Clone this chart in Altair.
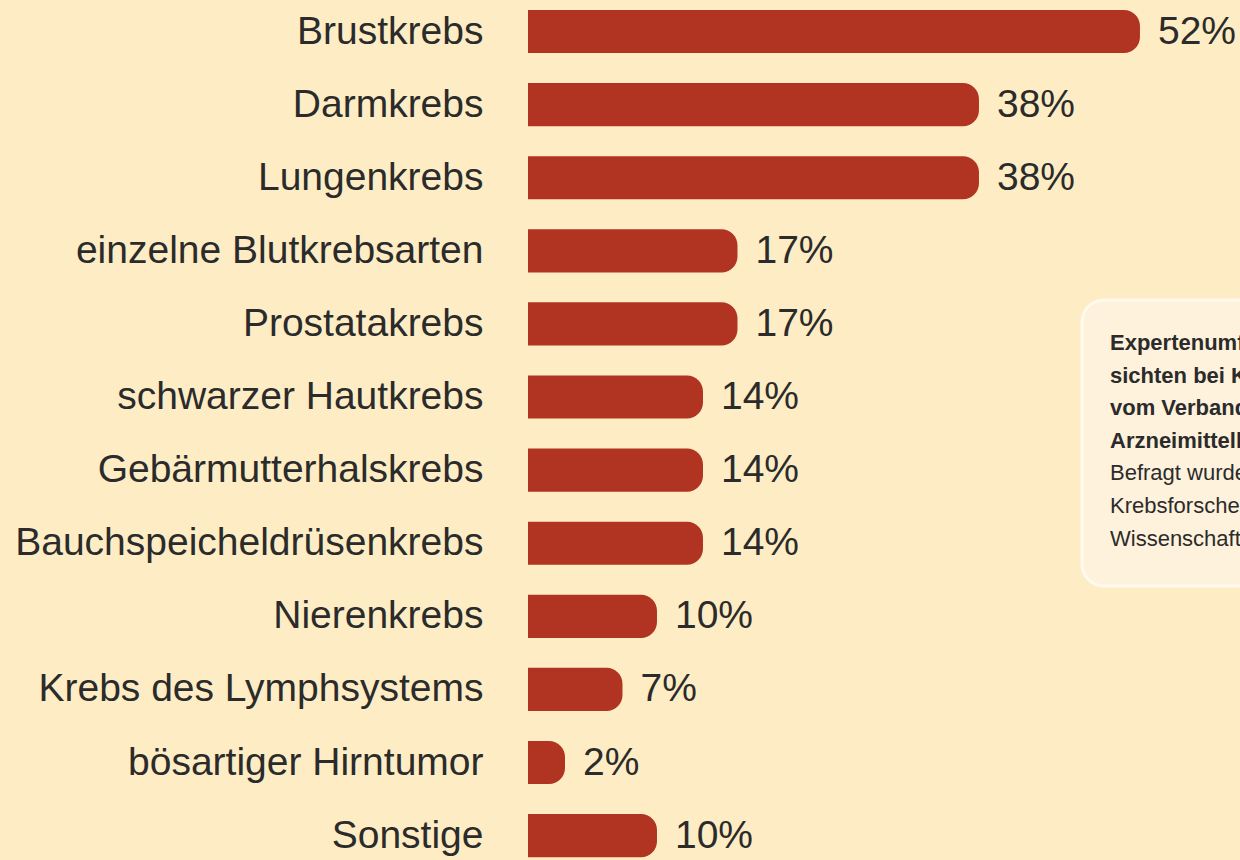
import altair as alt
import pandas as pd

categories = [
    "Brustkrebs", "Darmkrebs", "Lungenkrebs", "einzelne Blutkrebsarten",
    "Prostatakrebs", "schwarzer Hautkrebs", "Gebärmutterhalskrebs",
    "Bauchspeicheldrüsenkrebs", "Nierenkrebs", "Krebs des Lymphsystems",
    "bösartiger Hirntumor", "Sonstige",
]
values = [52, 38, 38, 17, 17, 14, 14, 14, 10, 7, 2, 10]
labels = [f"{v}%" for v in values]

note_bold = [
    "Expertenumfrage zu Aus-",
    "sichten bei Krebs, durchgeführt",
    "vom Verband forschender",
    "Arzneimittelhersteller",
]
note_regular = [
    "Befragt wurden",
    "Krebsforscher aus",
    "Wissenschaft und Industrie",
]

BG = "#FEEDC4"
BAR = "#B03421"
TXT = "#2B2B2B"
FONT = "Liberation Sans"

df = pd.DataFrame({"cat": categories, "val": values, "lab": labels})

y_enc = alt.Y(
    "cat:N", sort=categories, title=None,
    scale=alt.Scale(paddingInner=0.41, paddingOuter=0.0875, align=0.78),
    axis=alt.Axis(domain=False, ticks=False, labelFontSize=39, labelFont=FONT,
                  labelColor=TXT, labelPadding=45, labelLimit=600),
)
x_scale = alt.Scale(domain=[-1.217, 60.7], nice=False, zero=False)

bars = alt.Chart(df).transform_calculate(base="-1.217").mark_bar(
    color=BAR, cornerRadiusTopRight=16, cornerRadiusBottomRight=16
).encode(
    y=y_enc,
    x=alt.X("val:Q", scale=x_scale, axis=None),
    x2="base:Q",
)

texts = alt.Chart(df).mark_text(
    align="left", baseline="middle", dx=18, fontSize=39, font=FONT, color=TXT
).encode(
    y=alt.Y("cat:N", sort=categories),
    x=alt.X("val:Q", scale=x_scale),
    text="lab:N",
)

one = pd.DataFrame({"a": [0]})
box = alt.Chart(one).mark_rect(
    fill="#FEF2DC", stroke="#FFFAF0", strokeWidth=3, cornerRadius=22, clip=True
).encode(
    x=alt.value(554), x2=alt.value(760), y=alt.value(300), y2=alt.value(586)
)
note1 = alt.Chart(one).mark_text(
    align="left", baseline="alphabetic", fontSize=22, font=FONT, fontWeight="bold",
    color=TXT, lineHeight=32.5, clip=True
).encode(x=alt.value(582), y=alt.value(350), text=alt.value(note_bold))
note2 = alt.Chart(one).mark_text(
    align="left", baseline="alphabetic", fontSize=22, font=FONT,
    color=TXT, lineHeight=33, clip=True
).encode(x=alt.value(582), y=alt.value(480), text=alt.value(note_regular))

chart = alt.layer(bars, texts, box, note1, note2).properties(
    width=712, height=860,
    autosize=alt.AutoSizeParams(type="none"),
    padding={"left": 528, "top": 0, "right": 0, "bottom": 0},
    background=BG,
).configure_view(stroke=None)

chart.save("out.html", embed_options={"renderer": "svg", "actions": False})
